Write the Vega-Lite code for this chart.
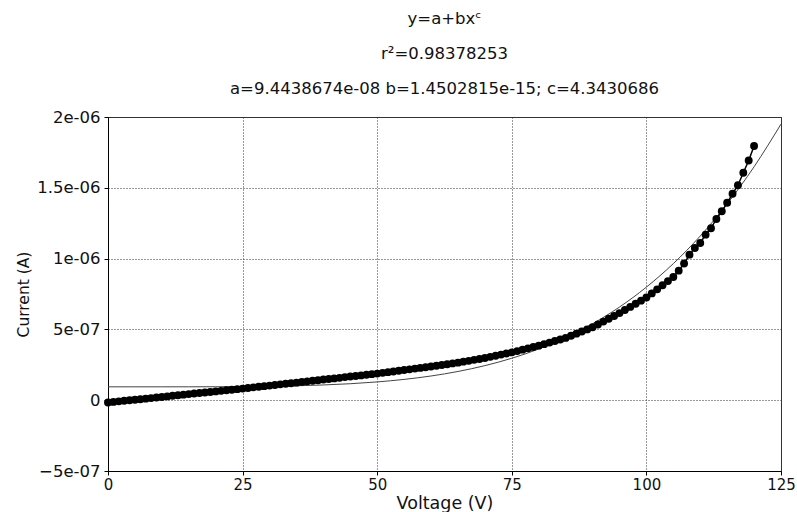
{
  "$schema": "https://vega.github.io/schema/vega-lite/v6.json",
  "autosize": "none",
  "width": 673,
  "height": 354,
  "padding": {"left": 108, "top": 117, "right": 16, "bottom": 41},
  "background": "white",
  "config": {
    "font": "DejaVu Sans",
    "view": {"stroke": "#333", "strokeWidth": 1},
    "axis": {
      "labelFont": "DejaVu Sans",
      "titleFont": "DejaVu Sans",
      "labelColor": "#111",
      "titleColor": "#111",
      "titleFontWeight": "normal",
      "domainColor": "#000",
      "tickColor": "#000",
      "tickSize": 4,
      "gridColor": "#333",
      "gridDash": [1, 2],
      "gridWidth": 1
    }
  },
  "title": {
    "text": ["y=a+bxᶜ", "r²=0.98378253", "a=9.4438674e-08 b=1.4502815e-15; c=4.3430686"],
    "font": "DejaVu Sans",
    "fontSize": 16.5,
    "fontWeight": "normal",
    "color": "#111",
    "lineHeight": 35,
    "anchor": "middle",
    "offset": 12
  },
  "datasets": {
    "meas": [
      {"v":0,"i":-1.6e-8},{"v":1,"i":-1.2e-8},{"v":2,"i":-8e-9},{"v":3,"i":-4e-9},{"v":4,"i":0},
      {"v":5,"i":3.5e-9},{"v":6,"i":7e-9},{"v":7,"i":1.1e-8},{"v":8,"i":1.5e-8},{"v":9,"i":1.9e-8},
      {"v":10,"i":2.3e-8},{"v":11,"i":2.7e-8},{"v":12,"i":3.1e-8},{"v":13,"i":3.5e-8},{"v":14,"i":3.9e-8},
      {"v":15,"i":4.3e-8},{"v":16,"i":4.7e-8},{"v":17,"i":5.1e-8},{"v":18,"i":5.4e-8},{"v":19,"i":5.8e-8},
      {"v":20,"i":6.2e-8},{"v":21,"i":6.6e-8},{"v":22,"i":7.0e-8},{"v":23,"i":7.4e-8},{"v":24,"i":7.8e-8},
      {"v":25,"i":8.2e-8},{"v":26,"i":8.6e-8},{"v":27,"i":9.1e-8},{"v":28,"i":9.5e-8},{"v":29,"i":9.9e-8},
      {"v":30,"i":1.03e-7},{"v":31,"i":1.07e-7},{"v":32,"i":1.12e-7},{"v":33,"i":1.16e-7},{"v":34,"i":1.20e-7},
      {"v":35,"i":1.24e-7},{"v":36,"i":1.29e-7},{"v":37,"i":1.33e-7},{"v":38,"i":1.37e-7},{"v":39,"i":1.41e-7},
      {"v":40,"i":1.46e-7},{"v":41,"i":1.50e-7},{"v":42,"i":1.54e-7},{"v":43,"i":1.58e-7},{"v":44,"i":1.63e-7},
      {"v":45,"i":1.67e-7},{"v":46,"i":1.71e-7},{"v":47,"i":1.75e-7},{"v":48,"i":1.80e-7},{"v":49,"i":1.84e-7},
      {"v":50,"i":1.88e-7},{"v":51,"i":1.93e-7},{"v":52,"i":1.98e-7},{"v":53,"i":2.03e-7},{"v":54,"i":2.08e-7},
      {"v":55,"i":2.13e-7},{"v":56,"i":2.18e-7},{"v":57,"i":2.23e-7},{"v":58,"i":2.28e-7},{"v":59,"i":2.33e-7},
      {"v":60,"i":2.38e-7},{"v":61,"i":2.43e-7},{"v":62,"i":2.49e-7},{"v":63,"i":2.54e-7},{"v":64,"i":2.60e-7},
      {"v":65,"i":2.65e-7},{"v":66,"i":2.72e-7},{"v":67,"i":2.78e-7},{"v":68,"i":2.85e-7},{"v":69,"i":2.91e-7},
      {"v":70,"i":2.98e-7},{"v":71,"i":3.06e-7},{"v":72,"i":3.14e-7},{"v":73,"i":3.22e-7},{"v":74,"i":3.30e-7},
      {"v":75,"i":3.38e-7},{"v":76,"i":3.47e-7},{"v":77,"i":3.57e-7},{"v":78,"i":3.66e-7},{"v":79,"i":3.76e-7},
      {"v":80,"i":3.85e-7},{"v":81,"i":3.96e-7},{"v":82,"i":4.07e-7},{"v":83,"i":4.18e-7},{"v":84,"i":4.29e-7},
      {"v":85,"i":4.40e-7},{"v":86,"i":4.55e-7},{"v":87,"i":4.70e-7},{"v":88,"i":4.85e-7},{"v":89,"i":5.00e-7},
      {"v":90,"i":5.15e-7},{"v":91,"i":5.35e-7},{"v":92,"i":5.55e-7},{"v":93,"i":5.75e-7},{"v":94,"i":5.95e-7},
      {"v":95,"i":6.15e-7},{"v":96,"i":6.37e-7},{"v":97,"i":6.59e-7},{"v":98,"i":6.81e-7},{"v":99,"i":7.03e-7},
      {"v":100,"i":7.25e-7},{"v":101,"i":7.54e-7},{"v":102,"i":7.83e-7},{"v":103,"i":8.12e-7},{"v":104,"i":8.41e-7},
      {"v":105,"i":8.70e-7},{"v":106,"i":9.15e-7},{"v":107,"i":9.65e-7},{"v":108,"i":1.028e-6},{"v":109,"i":1.075e-6},
      {"v":110,"i":1.110e-6},{"v":111,"i":1.169e-6},{"v":112,"i":1.214e-6},{"v":113,"i":1.280e-6},{"v":114,"i":1.334e-6},
      {"v":115,"i":1.394e-6},{"v":116,"i":1.458e-6},{"v":117,"i":1.518e-6},{"v":118,"i":1.606e-6},{"v":119,"i":1.693e-6},
      {"v":120,"i":1.795e-6}
    ],
    "fit": [
      {"v":0,"i":9.444e-8},{"v":5,"i":9.444e-8},{"v":10,"i":9.447e-8},{"v":15,"i":9.462e-8},{"v":20,"i":9.509e-8},
      {"v":25,"i":9.615e-8},{"v":30,"i":9.821e-8},{"v":35,"i":1.0181e-7},{"v":40,"i":1.076e-7},{"v":45,"i":1.1639e-7},
      {"v":50,"i":1.2913e-7},{"v":55,"i":1.4691e-7},{"v":60,"i":1.7101e-7},{"v":65,"i":2.0285e-7},{"v":70,"i":2.4401e-7},
      {"v":75,"i":2.9626e-7},{"v":80,"i":3.6156e-7},{"v":85,"i":4.42e-7},{"v":90,"i":5.3995e-7},{"v":95,"i":6.5787e-7},
      {"v":100,"i":7.9849e-7},{"v":105,"i":9.6455e-7},{"v":110,"i":1.15945e-6},{"v":115,"i":1.38616e-6},{"v":120,"i":1.64856e-6},
      {"v":125,"i":1.94994e-6}
    ]
  },
  "encoding": {
    "x": {
      "field": "v", "type": "quantitative",
      "scale": {"domain": [0, 125], "nice": false, "zero": false},
      "axis": {
        "title": "Voltage (V)",
        "values": [0, 25, 50, 75, 100, 125],
        "labelFontSize": 15,
        "titleFontSize": 17.5,
        "labelPadding": 2,
        "titlePadding": 2,
        "labelFlush": false
      }
    },
    "y": {
      "field": "i", "type": "quantitative",
      "scale": {"domain": [-5e-7, 2e-6], "nice": false, "zero": false},
      "axis": {
        "title": "Current (A)",
        "values": [-5e-7, 0, 5e-7, 1e-6, 1.5e-6, 2e-6],
        "labelExpr": "datum.value == 0 ? '0' : replace(format(datum.value, '~e'), 'e-', 'e-0')",
        "labelFontSize": 16.5,
        "titleFontSize": 15.5,
        "labelPadding": 4,
        "titlePadding": 5,
        "labelFlush": false
      }
    }
  },
  "layer": [
    {
      "data": {"name": "fit"},
      "mark": {"type": "line", "color": "#444", "strokeWidth": 1, "interpolate": "monotone"}
    },
    {
      "data": {"name": "meas"},
      "mark": {"type": "line", "color": "#000", "strokeWidth": 1.5}
    },
    {
      "data": {"name": "meas"},
      "mark": {"type": "point", "filled": true, "shape": "circle", "color": "#000", "size": 62, "opacity": 1}
    }
  ]
}
